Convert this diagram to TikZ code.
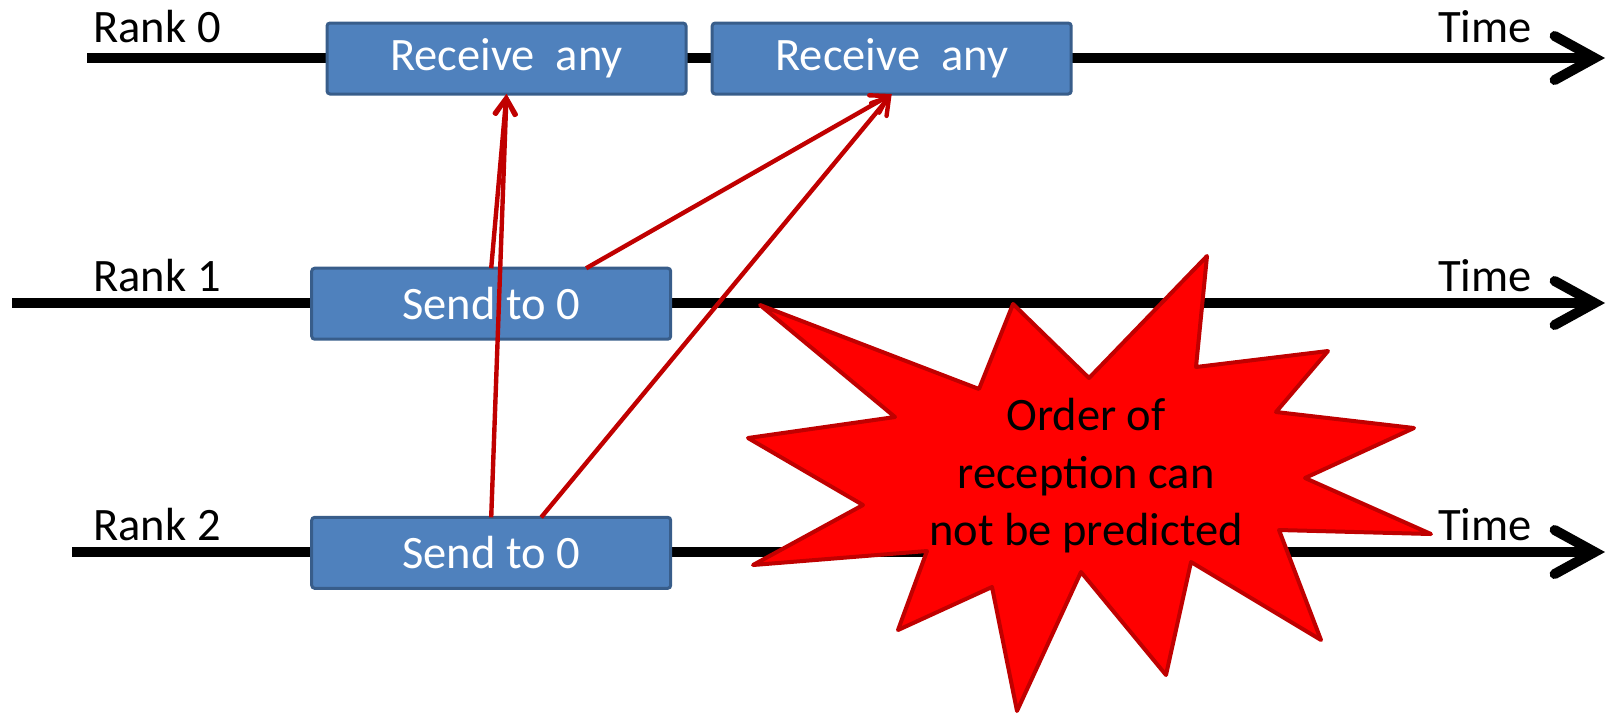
\documentclass[tikz,border=0pt]{standalone}
\usepackage{fontspec}
\setmainfont{Carlito}
\usetikzlibrary{arrows.meta}

\definecolor{taskblue}{HTML}{4F81BD}
\definecolor{taskedge}{HTML}{385D8A}
\definecolor{msgred}{HTML}{C00000}

\begin{document}
\begin{tikzpicture}[x=0.5pt,y=-0.5pt,
  every node/.style={inner sep=0pt, outer sep=0pt, font=\fontsize{23.25}{28.75}\selectfont},
  timeline/.style={line width=5pt, -{Straight Barb[length=20pt,width=22pt,line cap=round]}},
  label/.style={anchor=base},
  task/.style={fill=taskblue, draw=taskedge, line width=1.5pt, rounded corners=1.5pt,
    minimum width=179.5pt, minimum height=35.5pt, text=white},
  msg/.style={draw=msgred, line width=2.2pt, -{Straight Barb[length=8pt,width=10pt,line cap=round]}},
  burst/.style={fill=red, draw=msgred, line width=2pt, line join=round}]
\useasboundingbox (0,0) rectangle (1610,714);

\coordinate (r0s) at (87,58);
\coordinate (r0e) at (1605,58);
\coordinate (r1s) at (12,303);
\coordinate (r1e) at (1605,303);
\coordinate (r2s) at (72,552);
\coordinate (r2e) at (1605,552);

\draw[timeline] (r0s) -- (r0e);
\draw[timeline] (r1s) -- (r1e);
\draw[timeline] (r2s) -- (r2e);

\node[label] (rank0) at (157,42) {Rank 0};
\node[label] (rank1) at (157,291) {Rank 1};
\node[label] (rank2) at (157,540) {Rank 2};
\node[label] (time0) at (1485,42) {Time};
\node[label] (time1) at (1485,291) {Time};
\node[label] (time2) at (1485,540) {Time};

\node[task] (recv1) at (506.5,58.5) {Receive\ \ any};
\node[task] (recv2) at (891.7,58.5) {Receive\ \ any};
\node[task] (send1) at (491.2,303.7) {Send to 0};
\node[task] (send2) at (491.2,552.8) {Send to 0};

\draw[msg] (send1.north) -- (recv1.south);
\draw[msg] (send2.north) -- (recv1.south);
\draw[msg] ([xshift=47.5pt]send1.north) -- (recv2.south);
\draw[msg] ([xshift=25pt]send2.north) -- (recv2.south);

\draw[burst] (760,305) -- (979,389) -- (1013,304) -- (1089,378) -- (1207,256)
  -- (1196,367) -- (1328,351) -- (1276,412) -- (1414,428) -- (1305,478)
  -- (1431,534) -- (1279,530) -- (1321,640) -- (1191,562) -- (1166,675)
  -- (1081,572) -- (1017,711) -- (992,587) -- (898,630) -- (927,551)
  -- (753,565) -- (863,505) -- (748,438) -- (895,417) -- cycle;
\node[align=center] (note) at (1086,476) {Order of\\reception can\\not be predicted};
\end{tikzpicture}
\end{document}
